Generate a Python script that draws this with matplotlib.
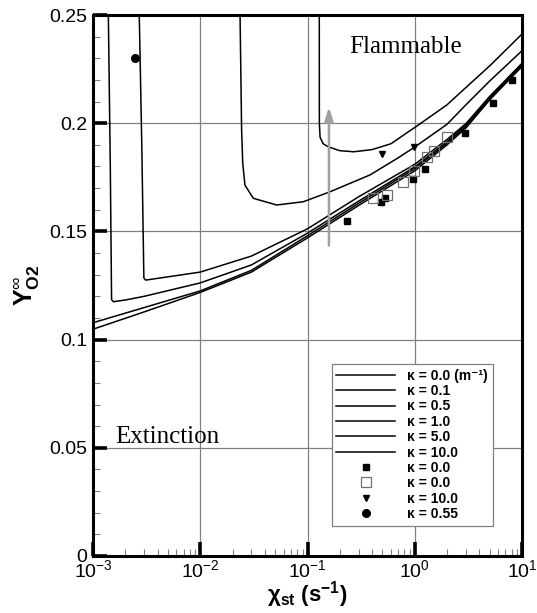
import numpy as np
import matplotlib
matplotlib.use("Agg")
import matplotlib.pyplot as plt
from matplotlib.ticker import FixedLocator, MultipleLocator, LogLocator, NullFormatter

plt.rcParams['font.family'] = 'Liberation Sans'
plt.rcParams['mathtext.fontset'] = 'custom'
plt.rcParams['mathtext.rm'] = 'Liberation Serif'
plt.rcParams['mathtext.it'] = 'Liberation Serif'
plt.rcParams['mathtext.bf'] = 'Liberation Sans:bold'
plt.rcParams['mathtext.default'] = 'regular'

# computed extinction curves (chi_st, Y_O2)
k00_x = [1e-3, 3e-3, 1e-2, 3e-2, 0.1, 0.3, 1, 2, 3, 5, 10]
k00_y = [0.1048, 0.1128, 0.1218, 0.1312, 0.1470, 0.1620, 0.1780, 0.1900, 0.1978, 0.2108, 0.2262]
k01_x = [1e-3, 3e-3, 1e-2, 3e-2, 0.1, 0.3, 1, 2, 3, 5, 10]
k01_y = [0.1078, 0.1148, 0.1225, 0.1320, 0.1480, 0.1630, 0.1790, 0.1908, 0.1985, 0.2113, 0.2268]
k05_x = [1.39e-3, 1.45e-3, 1.49e-3, 1.55e-3, 2e-3, 3e-3, 1e-2, 3e-2, 0.1, 0.3, 1, 2, 3, 5, 10]
k05_y = [0.25, 0.18, 0.1185, 0.1175, 0.1183, 0.1200, 0.1262, 0.1345, 0.1492, 0.1640, 0.1798, 0.1915, 0.1992, 0.2118, 0.2272]
k1_x = [2.7e-3, 2.85e-3, 2.98e-3, 3.1e-3, 4e-3, 1e-2, 3e-2, 0.1, 0.3, 1, 2, 3, 5, 10]
k1_y = [0.25, 0.19, 0.1285, 0.1275, 0.1283, 0.1312, 0.1386, 0.1512, 0.1660, 0.1810, 0.1925, 0.1998, 0.2124, 0.2277]
k5_x = [0.0235, 0.0243, 0.0249, 0.0261, 0.0312, 0.0516, 0.0914, 0.162, 0.383, 0.7, 1.0, 2.0, 3.0, 5.0, 10]
k5_y = [0.25, 0.1969, 0.1815, 0.1714, 0.1653, 0.1622, 0.1637, 0.1683, 0.1761, 0.1840, 0.1890, 0.1995, 0.2085, 0.2195, 0.2335]
k10_x = [0.1288, 0.129, 0.131, 0.140, 0.156, 0.2, 0.27, 0.4, 0.6, 0.9, 1.0, 2.0, 3.0, 5.0, 10]
k10_y = [0.25, 0.2, 0.1935, 0.1905, 0.1891, 0.1873, 0.1868, 0.1878, 0.1905, 0.1965, 0.1980, 0.2085, 0.2165, 0.2265, 0.2412]

# experimental points
sqf_x = [0.233, 0.482, 0.531, 0.957, 1.24, 2.92, 5.33, 8.13]
sqf_y = [0.1548, 0.1637, 0.1654, 0.1741, 0.1788, 0.1955, 0.2093, 0.2200]
sqo_x = [0.405, 0.548, 0.778, 0.98, 1.31, 1.52, 2.0]
sqo_y = [0.1653, 0.1668, 0.1730, 0.1780, 0.1842, 0.1873, 0.1935]
tri_x = [0.50, 0.98]
tri_y = [0.1858, 0.1889]
circ_x = [0.00246]
circ_y = [0.230]

yticks = [0, 0.05, 0.1, 0.15, 0.2, 0.25]
ytick_labels = ['0', '0.05', '0.1', '0.15', '0.2', '0.25']

fig = plt.figure(figsize=(5.37, 6.13), dpi=100)
ax = fig.add_axes([93/537, 57/613, 429/537, 541/613])

lw = 1.1
ax.plot(k00_x, k00_y, 'k-', lw=lw, label='κ = 0.0 (m⁻¹)')
ax.plot(k01_x, k01_y, 'k-', lw=lw, label='κ = 0.1')
ax.plot(k05_x, k05_y, 'k-', lw=lw, label='κ = 0.5')
ax.plot(k1_x, k1_y, 'k-', lw=lw, label='κ = 1.0')
ax.plot(k5_x, k5_y, 'k-', lw=lw, label='κ = 5.0')
ax.plot(k10_x, k10_y, 'k-', lw=lw, label='κ = 10.0')
ax.plot(sqf_x, sqf_y, 's', color='k', ms=4, ls='none', label='κ = 0.0')
ax.plot(sqo_x, sqo_y, 's', mfc='none', mec='#707070', mew=0.9, ms=7, ls='none', label='κ = 0.0')
ax.plot(tri_x, tri_y, 'v', color='k', ms=5, ls='none', label='κ = 10.0')
ax.plot(circ_x, circ_y, 'o', color='k', ms=5.5, ls='none', label='κ = 0.55')

ax.annotate('', xy=(0.1585, 0.2088), xytext=(0.1585, 0.1422),
            arrowprops=dict(arrowstyle='-|>,head_length=0.8,head_width=0.25', color='#a0a0a0', lw=1.8))

ax.text(0.83, 0.2352, 'Flammable', family='Liberation Serif', fontsize=18, ha='center', va='center')
ax.text(0.0049, 0.055, 'Extinction', family='Liberation Serif', fontsize=18, ha='center', va='center')

ax.set_xscale('log')
ax.set_xlim(1e-3, 10)
ax.set_ylim(0, 0.25)
ax.yaxis.set_major_locator(FixedLocator(yticks))
ax.set_yticklabels(ytick_labels)
ax.yaxis.set_minor_locator(MultipleLocator(0.01))
ax.xaxis.set_minor_locator(LogLocator(base=10, subs=np.arange(2, 10)))
ax.xaxis.set_minor_formatter(NullFormatter())

ax.grid(True, which='major', color='#808080', lw=0.9)
ax.set_axisbelow(True)
ax.tick_params(which='major', direction='in', length=10, width=2.6, labelsize=14, pad=4)
ax.tick_params(axis='x', which='major', pad=2)
ax.tick_params(which='minor', direction='in', length=5, width=0.8, color='#808080')
for s in ax.spines.values():
    s.set_linewidth(2.2)

ax.set_xlabel(r'$\chi_{\mathbf{st}}$ (s$^{\mathbf{-1}}$)', fontsize=16, fontweight='bold', labelpad=-1)
ax.set_ylabel(r'$\mathbf{Y}^{\infty}_{\mathbf{O2}}$', fontsize=18, labelpad=5)

leg = ax.legend(loc='lower right', bbox_to_anchor=(0.932, 0.0555),
                prop={'family': ['Liberation Sans', 'DejaVu Sans'], 'weight': 'bold', 'size': 10},
                handlelength=4.2, labelspacing=0.1, borderpad=0.35,
                handletextpad=0.9, fancybox=False, framealpha=1, edgecolor='#808080',
                borderaxespad=0)
leg.get_frame().set_linewidth(0.9)

fig.savefig('out.png', dpi=100)
